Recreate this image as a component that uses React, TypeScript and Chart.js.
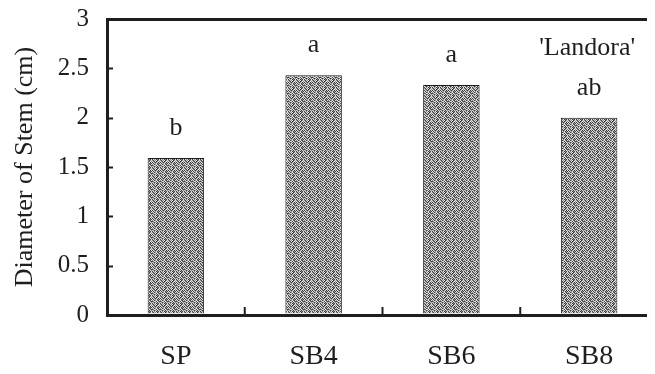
import React, { useEffect, useRef } from "react";
import { Chart, registerables } from "chart.js";

Chart.register(...registerables);

const categories = ["SP", "SB4", "SB6", "SB8"];
const stemDiameter = [1.59, 2.43, 2.33, 2.0];
const significance = ["b", "a", "a", "ab"];
const cultivarLabel = "'Landora'";
const yTitle = "Diameter of Stem (cm)";

const FONT = "'Liberation Serif', 'Times New Roman', serif";
const INK = "#1e1e1e";

// halftone-like dither tile (style only)
const TILE = [
  "21020120",
  "02101202",
  "10212010",
  "01020121",
  "20120210",
  "12001021",
  "02120102",
  "10201210",
];
const TILE_COLORS = ["#e2e2e2", "#3a3a3a", "#8a8a8a"];

function makePattern(): CanvasPattern | string {
  const n = TILE.length;
  const c = document.createElement("canvas");
  c.width = n;
  c.height = n;
  const g = c.getContext("2d");
  if (!g) return "#888";
  for (let y = 0; y < n; y++) {
    for (let x = 0; x < n; x++) {
      g.fillStyle = TILE_COLORS[Number(TILE[y][x])];
      g.fillRect(x, y, 1, 1);
    }
  }
  const p = g.createPattern(c, "repeat");
  return p || "#888";
}

const decorPlugin = {
  id: "decor",
  afterDatasetsDraw(chart: any) {
    const { ctx, chartArea, scales } = chart;
    const ys = scales.y;
    const xs = scales.x;
    ctx.save();
    ctx.strokeStyle = INK;
    ctx.lineWidth = 2;
    ys.ticks.forEach((t: any) => {
      if (t.value <= 0 || t.value >= 3) return;
      const py = Math.round(ys.getPixelForValue(t.value)) + 0.5;
      ctx.beginPath();
      ctx.moveTo(chartArea.left, py);
      ctx.lineTo(chartArea.left + 6, py);
      ctx.stroke();
    });
    for (let i = 0; i < categories.length - 1; i++) {
      const px = (xs.getPixelForTick(i) + xs.getPixelForTick(i + 1)) / 2;
      ctx.beginPath();
      ctx.moveTo(px, chartArea.bottom);
      ctx.lineTo(px, chartArea.bottom - 8);
      ctx.stroke();
    }
    const meta = chart.getDatasetMeta(0);
    ctx.fillStyle = INK;
    ctx.font = `26px ${FONT}`;
    ctx.textAlign = "center";
    ctx.textBaseline = "alphabetic";
    meta.data.forEach((bar: any, i: number) => {
      ctx.fillText(significance[i], bar.x, bar.y - 23);
    });
    const last = meta.data[meta.data.length - 1];
    ctx.fillText(cultivarLabel, last.x - 2, chartArea.top + 36);
    ctx.restore();
  },
};

export default function App() {
  const ref = useRef<HTMLCanvasElement | null>(null);
  useEffect(() => {
    if (!ref.current) return;
    const chart = new Chart(ref.current, {
      type: "bar",
      data: {
        labels: categories,
        datasets: [
          {
            data: stemDiameter,
            backgroundColor: makePattern() as any,
            borderColor: INK,
            borderWidth: 1,
            categoryPercentage: 1,
            barPercentage: 0.41,
          },
        ],
      },
      options: {
        responsive: false,
        animation: false,
        layout: { padding: { top: 11, right: 10, left: 0, bottom: 0 } },
        plugins: {
          legend: { display: false },
          tooltip: { enabled: false },
        },
        scales: {
          x: {
            grid: { display: false, drawTicks: false },
            border: { display: true, color: INK, width: 3 },
            ticks: {
              color: INK,
              font: { family: FONT, size: 28 },
              padding: 25,
            },
            afterFit: (s: any) => {
              s.height = 59;
              s.paddingLeft = 0;
              s.paddingRight = 0;
            },
          },
          y: {
            min: 0,
            max: 3,
            ticks: {
              stepSize: 0.5,
              color: INK,
              font: { family: FONT, size: 25 },
              padding: 18,
              callback: (v: any) => String(Number(v)),
            },
            grid: {
              drawTicks: false,
              color: (c: any) => (c.tick && c.tick.value === 3 ? INK : "rgba(0,0,0,0)"),
              lineWidth: 3,
            },
            border: { display: true, color: INK, width: 3 },
            title: {
              display: true,
              text: yTitle,
              color: INK,
              font: { family: FONT, size: 26 },
              padding: { top: 2, bottom: 0 },
            },
            afterFit: (s: any) => {
              s.width = 99;
              s.paddingTop = 0;
              s.paddingBottom = 0;
            },
          },
        },
      },
      plugins: [decorPlugin],
    });
    return () => chart.destroy();
  }, []);
  return (
    <div style={{ width: 647, height: 366, overflow: "hidden", background: "#fff" }}>
      <canvas ref={ref} width={660} height={366} style={{ display: "block" }} />
    </div>
  );
}
